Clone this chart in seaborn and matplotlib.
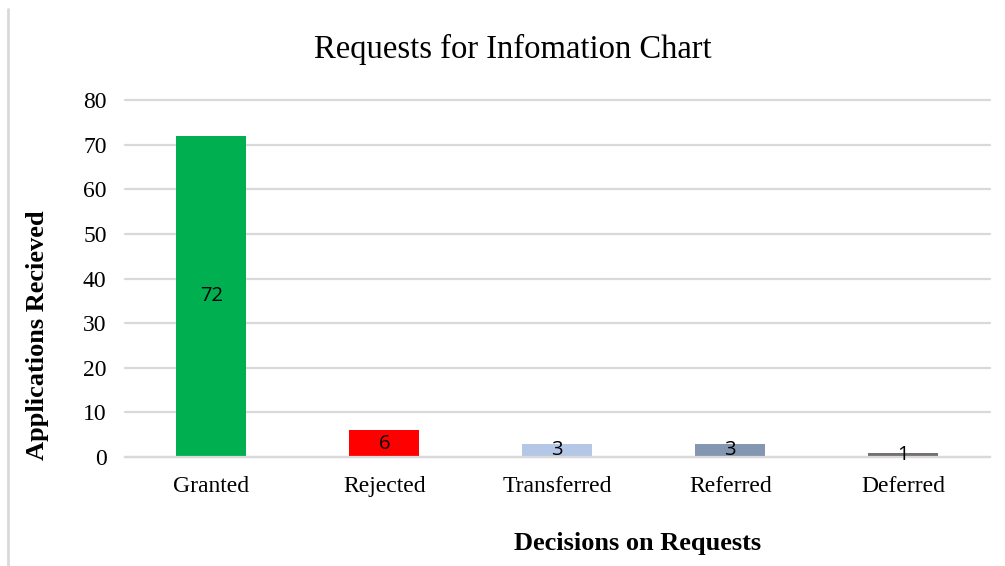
import matplotlib
matplotlib.use("Agg")
import matplotlib.pyplot as plt
import seaborn as sns
import pandas as pd
from matplotlib.lines import Line2D

categories = ["Granted", "Rejected", "Transferred", "Referred", "Deferred"]
values = [72, 6, 3, 3, 1]
colors = ["#00B050", "#FF0000", "#B4C7E7", "#8497B0", "#767171"]
yticks = [0, 10, 20, 30, 40, 50, 60, 70, 80]

sns.set_theme(style="white")
plt.rcParams["font.family"] = ["Liberation Serif", "DejaVu Serif"]
plt.rcParams["text.color"] = "black"
plt.rcParams["axes.labelcolor"] = "black"

df = pd.DataFrame({"cat": categories, "val": values})

fig = plt.figure(figsize=(10.05, 5.66), dpi=100)
ax = fig.add_axes([0.124, 0.1926, 0.861, 0.6306])

sns.barplot(data=df, x="cat", y="val", hue="cat", palette=colors, width=0.405,
            legend=False, ax=ax, saturation=1, edgecolor="none", dodge=False)

ax.set_ylim(0, 80)
ax.set_yticks(yticks)
ax.set_yticklabels([str(t) for t in yticks])
ax.yaxis.grid(True, color="#d9d9d9", linewidth=1.6, clip_on=False)
ax.set_axisbelow(True)
for s in ["top", "right", "left"]:
    ax.spines[s].set_visible(False)
ax.spines["bottom"].set_color("#d9d9d9")
ax.spines["bottom"].set_linewidth(1.6)
ax.tick_params(axis="both", length=0, labelsize=17, colors="black")
ax.tick_params(axis="y", pad=13)
ax.tick_params(axis="x", pad=14)

for c in ax.containers:
    for bar in c:
        if bar is None:
            continue
        h = bar.get_height()
        if h != h or h == 0:
            continue
        ax.text(bar.get_x() + bar.get_width() / 2, h / 2, f"{int(round(h))}",
                ha="center", va="center", fontsize=14.5, family="Open Sans", color="black")

ax.set_xlabel("Decisions on Requests", fontsize=19, fontweight="bold")
ax.xaxis.set_label_coords(0.593, -0.21)
ax.set_ylabel("Applications Recieved", fontsize=19, fontweight="bold")
ax.yaxis.set_label_coords(-0.087, 0.34)
ax.set_title("Requests for Infomation Chart", fontsize=23.5, x=0.449, pad=30)

fig.add_artist(Line2D([8/1005, 8/1005], [0, 1 - 9/566], color="#d9d9d9", linewidth=2,
                      transform=fig.transFigure))

fig.savefig("out.png", dpi=100)
